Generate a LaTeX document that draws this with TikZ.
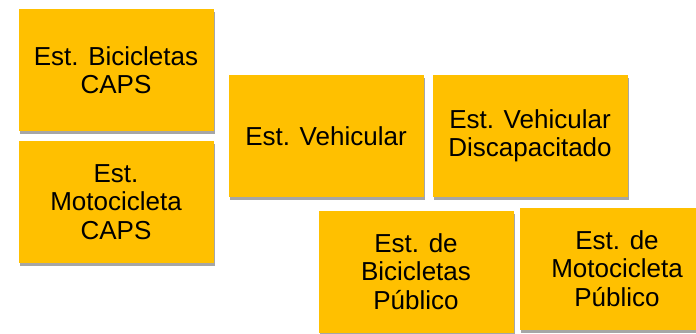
\documentclass[tikz,border=0pt]{standalone}
\usepackage{fontspec}
\setmainfont{Liberation Sans}
\usepackage{xcolor}
\usepackage{tikz}
\usetikzlibrary{positioning,shadows}
\definecolor{amber}{HTML}{FFC000}

\begin{document}
\begin{tikzpicture}[
    caja/.style={fill=amber,minimum width=195pt,minimum height=122pt,
                 inner sep=0pt,outer sep=0pt,align=center,
                 font=\fontsize{26}{28.3}\selectfont,
                 drop shadow={shadow xshift=1.5pt,shadow yshift=-3pt,
                              fill=black,opacity=.35}}]
  \useasboundingbox (0,0) rectangle (696pt,-333pt);
  \node[caja] (bici) at (116pt,-70pt) {Est. Bicicletas\\CAPS};
  \node[caja, below=10pt of bici] (moto) {Est.\\Motocicleta\\CAPS};
  \node[caja] (veh) at (326pt,-136pt) {Est. Vehicular};
  \node[caja, right=9pt of veh] (disc) {Est. Vehicular\\Discapacitado};
  \node[caja] (bicipub) at (416pt,-271.5pt) {Est. de\\Bicicletas\\Público};
  \node[caja, right=6pt of bicipub, yshift=3pt] (motopub) {Est. de\\Motocicleta\\Público};
\end{tikzpicture}
\end{document}
